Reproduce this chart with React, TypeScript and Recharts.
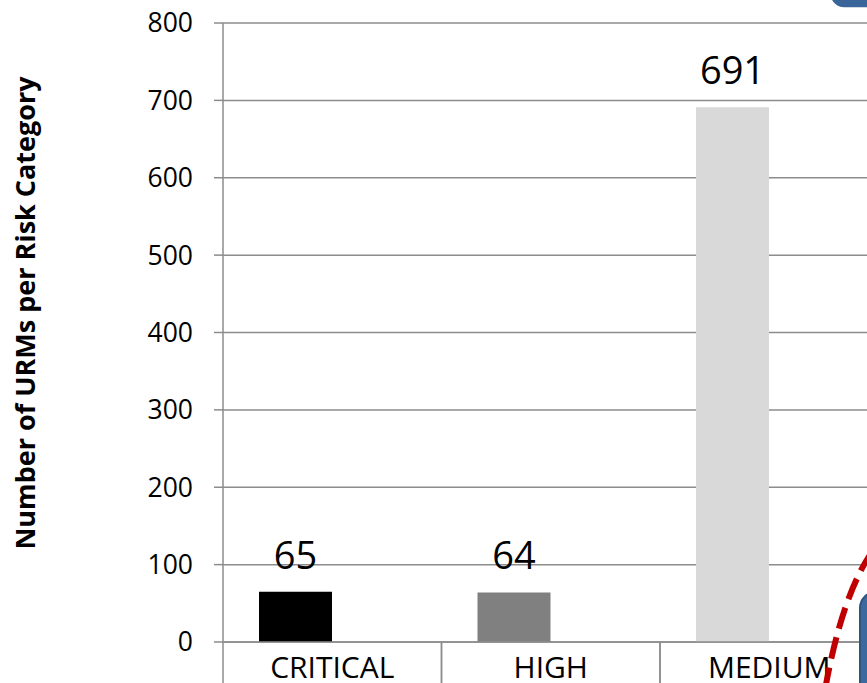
import React from "react";
import {
  Bar,
  BarChart,
  CartesianGrid,
  Cell,
  Customized,
  LabelList,
  XAxis,
  YAxis,
} from "recharts";

const categories = ["CRITICAL", "HIGH", "MEDIUM"];
const urmCounts = [65, 64, 691];
// second series slot of the clustered chart, empty in this view
const otherCounts: (number | null)[] = [null, null, null];
const barColors = ["#000000", "#808080", "#d9d9d9"];
const yTicks = [0, 100, 200, 300, 400, 500, 600, 700, 800];

const FONT = "'Open Sans', 'Noto Sans', sans-serif";
const GRID = "#8c8c8c";

const data = categories.map((c, i) => ({
  category: c,
  count: urmCounts[i],
  other: otherCounts[i],
}));

function CategoryTick(props: any) {
  const { x, y, payload } = props;
  const half = payload.offset ?? 109.25;
  return (
    <g>
      <line x1={x - half} x2={x - half} y1={y - 15} y2={y + 60} stroke={GRID} strokeWidth={1.5} />
      <line x1={x + half} x2={x + half} y1={y - 15} y2={y + 60} stroke={GRID} strokeWidth={1.5} />
      <text x={x} y={y} dy="0.71em" textAnchor="middle" fontSize={30} fill="#000" fontFamily={FONT}>
        {payload.value}
      </text>
    </g>
  );
}

function AxisTitle() {
  return (
    <text
      x={35}
      y={313}
      transform="rotate(-90 35 313)"
      textAnchor="middle"
      fontSize={27}
      fontWeight="bold"
      fill="#000"
      fontFamily={FONT}
    >
      Number of URMs per Risk Category
    </text>
  );
}

export default function App() {
  return (
    <div
      style={{
        position: "fixed",
        left: 0,
        top: 0,
        width: 867,
        height: 683,
        overflow: "hidden",
        background: "#fff",
      }}
    >
      <BarChart
        width={900}
        height={720}
        data={data}
        margin={{ top: 23, right: 21.5, bottom: 0, left: 0 }}
        barGap={0}
      >
        <CartesianGrid vertical={false} stroke={GRID} strokeWidth={1.5} />
        <XAxis
          dataKey="category"
          height={78}
          tickLine={false}
          tickSize={0}
          tickMargin={15}
          axisLine={{ stroke: GRID, strokeWidth: 1.5 }}
          tick={<CategoryTick />}
          interval={0}
        />
        <YAxis
          width={223}
          domain={[0, 800]}
          ticks={yTicks}
          interval={0}
          tickSize={9}
          tickMargin={21}
          tickLine={{ stroke: GRID, strokeWidth: 1.5 }}
          axisLine={{ stroke: GRID, strokeWidth: 1.5 }}
          tick={{ fontSize: 26.5, fill: "#000", fontFamily: FONT }}
        />
        <Bar dataKey="count" barSize={73} isAnimationActive={false}>
          {data.map((_, i) => (
            <Cell key={i} fill={barColors[i]} />
          ))}
          <LabelList
            dataKey="count"
            position="top"
            offset={23}
            fontSize={38}
            fill="#000"
            fontFamily={FONT}
          />
        </Bar>
        <Bar dataKey="other" barSize={73} fill="#ffffff" isAnimationActive={false} />
        <Customized component={AxisTitle} />
      </BarChart>
      <svg
        width={867}
        height={683}
        style={{ position: "absolute", left: 0, top: 0, pointerEvents: "none" }}
      >
        <rect x={830} y={-40} width={70} height={48} rx={14} fill="#3a659a" stroke="#ffffff" strokeWidth={1.5} />
        <rect x={860} y={592} width={60} height={140} rx={16} fill="#3d6a9e" stroke="#2f5580" strokeWidth={2} />
        <path
          d="M 872 552 Q 842 595 825 690"
          fill="none"
          stroke="#c00000"
          strokeWidth={6}
          strokeDasharray="22 9"
        />
      </svg>
    </div>
  );
}
